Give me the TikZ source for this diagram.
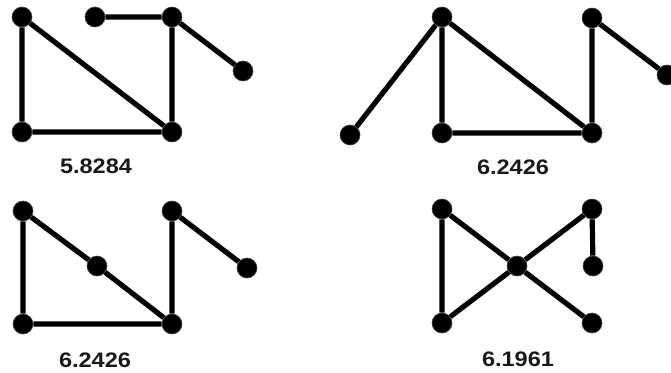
\documentclass[tikz,border=0pt]{standalone}
\usepackage{fontspec}
\usepackage{tikz}
\newfontfamily\scorefont[FakeStretch=1.12]{Liberation Sans Bold}
\tikzset{
  vtx/.style={circle,fill=black,draw=black!85!yellow,line width=0.6pt,
              minimum size=20pt,inner sep=0pt},
  edg/.style={line width=5.2pt,black},
  score/.style={font=\scorefont\fontsize{21}{21}\selectfont,inner sep=0pt,text=black!90},
}

\begin{document}
\begin{tikzpicture}[x=1pt,y=-1pt]
  \useasboundingbox (0,0) rectangle (671,372);
  % top left
  \node[vtx] (a1) at (22,17) {};
  \node[vtx] (a2) at (95,17) {};
  \node[vtx] (a3) at (172,17) {};
  \node[vtx] (a4) at (243,71) {};
  \node[vtx] (a5) at (22,132) {};
  \node[vtx] (a6) at (172,132) {};
  \node[score] (sa) at (96,166) {5.8284};
  \draw[edg] (a1)--(a5) (a1)--(a6) (a5)--(a6) (a6)--(a3) (a3)--(a2) (a3)--(a4);
  % top right
  \node[vtx] (b1) at (442,17) {};
  \node[vtx] (b2) at (592,18) {};
  \node[vtx] (b3) at (667,75) {};
  \node[vtx] (b4) at (350,135) {};
  \node[vtx] (b5) at (442,133) {};
  \node[vtx] (b6) at (592,133) {};
  \node[score] (sb) at (513,167) {6.2426};
  \draw[edg] (b1)--(b4) (b1)--(b5) (b1)--(b6) (b5)--(b6) (b6)--(b2) (b2)--(b3);
  % bottom left
  \node[vtx] (c1) at (23,211) {};
  \node[vtx] (c2) at (97,266) {};
  \node[vtx] (c3) at (172,211) {};
  \node[vtx] (c4) at (247,268) {};
  \node[vtx] (c5) at (23,324) {};
  \node[vtx] (c6) at (172,324) {};
  \node[score] (sc) at (95,360) {6.2426};
  \draw[edg] (c1)--(c5) (c1)--(c2) (c2)--(c6) (c5)--(c6) (c6)--(c3) (c3)--(c4);
  % bottom right
  \node[vtx] (d1) at (442,209) {};
  \node[vtx] (d2) at (592,209) {};
  \node[vtx] (d3) at (593,266) {};
  \node[vtx] (d4) at (517,266) {};
  \node[vtx] (d5) at (442,323) {};
  \node[vtx] (d6) at (592,323) {};
  \node[score] (sd) at (518,359) {6.1961};
  \draw[edg] (d1)--(d5) (d1)--(d4) (d4)--(d6) (d5)--(d4) (d4)--(d2) (d2)--(d3);
\end{tikzpicture}
\end{document}
